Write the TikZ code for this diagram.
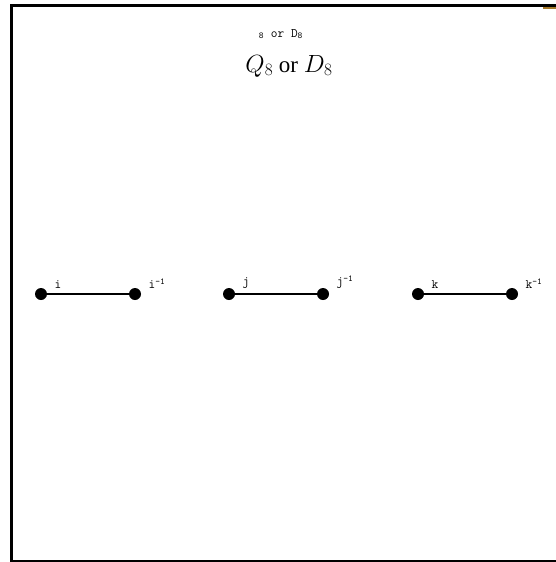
\documentclass[tikz,border=0pt]{standalone}
\usepackage{fontspec}
\setmainfont{Liberation Serif}
\usetikzlibrary{positioning}
\definecolor{FrameBrown}{RGB}{165,120,40}

\begin{document}
\begin{tikzpicture}[x=1pt,y=-1pt,
        elem/.style={circle,fill=black,inner sep=0pt,minimum size=12pt},
        bond/.style={draw=black,line width=2pt},
        lbl/.style={font=\fontsize{13}{15}\ttfamily,inner sep=1pt}
      ]
        \useasboundingbox (0,0) rectangle (556,562);
        % frame
        \draw[line width=3pt] (556,5) -- (11,5) -- (11,561) -- (556,561);
        \fill[FrameBrown] (543,6.5) rectangle (556,8.5);
        % titles
        \node[font=\fontsize{13}{15}\ttfamily,anchor=base] (sub) at (281,37)
          {\textsubscript{8} or D\textsubscript{8}};
        \node[font=\fontsize{23}{27}\selectfont,anchor=base] (title) at (289,72)
          {$Q_8$ or $D_8$};
        % pairs
        \node[elem] (i) at (41,294) {};
        \node[elem] (ii) at (135,294) {};
        \node[elem] (j) at (229,294) {};
        \node[elem] (jj) at (323,294) {};
        \node[elem] (k) at (418,294) {};
        \node[elem] (kk) at (512,294) {};
        \draw[bond] (i)--(ii);
        \draw[bond] (j)--(jj);
        \draw[bond] (k)--(kk);
        \node[lbl,above right=0pt and 8pt of i] (il) {i};
        \node[lbl,above right=0pt and 8pt of ii] (iil) {i\textsuperscript{-1}};
        \node[lbl,above right=0pt and 8pt of j] (jl) {j};
        \node[lbl,above right=0pt and 8pt of jj] (jjl) {j\textsuperscript{-1}};
        \node[lbl,above right=0pt and 8pt of k] (kl) {k};
        \node[lbl,above right=0pt and 8pt of kk] (kkl) {k\textsuperscript{-1}};
      \end{tikzpicture}
\end{document}
